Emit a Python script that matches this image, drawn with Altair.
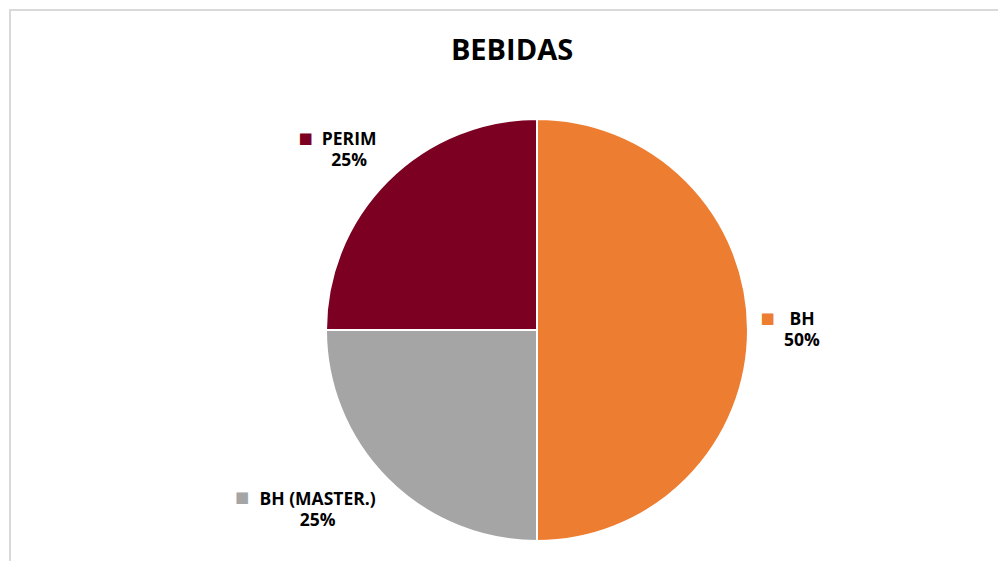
import altair as alt
import pandas as pd

# ---- data ----
categories = ["BH", "BH (MASTER.)", "PERIM"]
shares = [50, 25, 25]
colors = ["#ED7D31", "#A5A5A5", "#7B0022"]
title_text = "BEBIDAS"

df = pd.DataFrame({"cat": categories, "share": shares, "order": list(range(len(categories)))})
df["label"] = [f"{c}\n{s}%" for c, s in zip(categories, shares)]

# ---- layout ----
W, H = 990, 553
CX, CY = 528, 321
R = 211
LR = 265
FONT = "Open Sans"

# per-label offsets (text dx, dy, square dx, dy)
offsets = {
    "BH": (0, -10, -34.5, -12.5),
    "BH (MASTER.)": (-32, -17.5, -107.5, -20),
    "PERIM": (-0.5, -3, -44, -5),
}

color_scale = alt.Scale(domain=categories, range=colors)
theta_scale = alt.Scale(domain=[0, sum(shares)])

base = alt.Chart(df)

pie = base.mark_arc(outerRadius=R, stroke="white", strokeWidth=2).encode(
    theta=alt.Theta("share:Q", stack=True, scale=theta_scale),
    color=alt.Color("cat:N", scale=color_scale, legend=None),
    order=alt.Order("order:Q"),
    x=alt.value(CX),
    y=alt.value(CY),
)

stacked = base.transform_window(
    cum="sum(share)", sort=[alt.SortField("order")]
).transform_calculate(mid="datum.cum - datum.share / 2")

layers = [pie]
for c in categories:
    tdx, tdy, sdx, sdy = offsets[c]
    sub = stacked.transform_filter(alt.datum.cat == c)
    txt = sub.mark_text(
        radius=LR, font=FONT, fontWeight="bold", fontSize=17.5, lineBreak="\n",
        lineHeight=21, align="center", baseline="middle", dx=tdx, dy=tdy, color="#000000",
    ).encode(
        theta=alt.Theta("mid:Q", stack=None, scale=theta_scale),
        text="label:N",
        x=alt.value(CX), y=alt.value(CY),
    )
    sq = sub.mark_text(
        radius=LR, font="DejaVu Sans", fontSize=15, text="\u25A0",
        align="center", baseline="middle", dx=sdx, dy=sdy,
    ).encode(
        theta=alt.Theta("mid:Q", stack=None, scale=theta_scale),
        color=alt.Color("cat:N", scale=color_scale, legend=None),
        x=alt.value(CX), y=alt.value(CY),
    )
    layers += [txt, sq]

title = alt.Chart(pd.DataFrame({"t": [title_text]})).mark_text(
    font=FONT, fontWeight="bold", fontSize=29, align="center", baseline="alphabetic", color="#000000",
).encode(text="t:N", x=alt.value(503), y=alt.value(51))

border_df = pd.DataFrame({"k": [0]})
left_rule = alt.Chart(border_df).mark_rule(color="#D9D9D9", strokeWidth=2).encode(
    x=alt.value(1), y=alt.value(0), y2=alt.value(H)
)
top_rule = alt.Chart(border_df).mark_rule(color="#D9D9D9", strokeWidth=2).encode(
    y=alt.value(1), x=alt.value(0), x2=alt.value(W)
)

chart = alt.layer(*layers, title, left_rule, top_rule).properties(
    width=W, height=H, padding=0,
    autosize=alt.AutoSizeParams(type="fit", contains="padding"),
    background="white",
).configure_view(stroke=None)

chart.save("out.html", embed_options={"renderer": "svg", "actions": False})
